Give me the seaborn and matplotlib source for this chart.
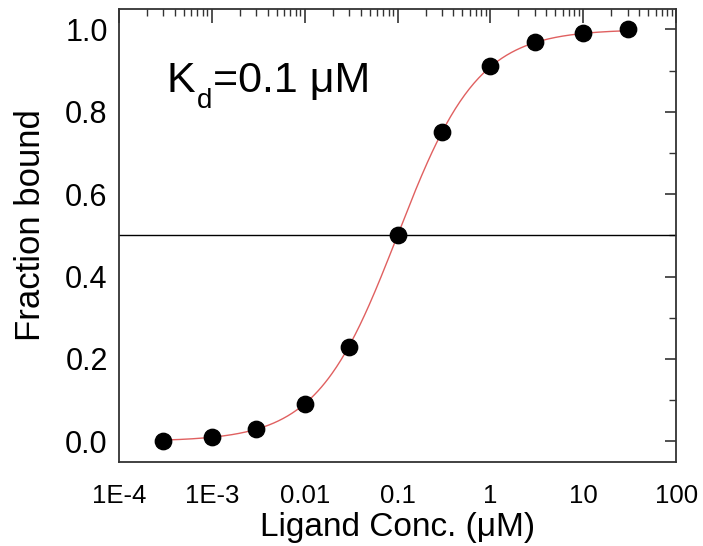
import matplotlib
matplotlib.use('Agg')
import matplotlib.pyplot as plt
import matplotlib.ticker as mticker
import seaborn as sns
import numpy as np
import pandas as pd

# binding data
conc = [3e-4, 1e-3, 3e-3, 0.01, 0.03, 0.1, 0.3, 1, 3, 10, 30]
fraction = [0.0, 0.01, 0.03, 0.09, 0.23, 0.5, 0.75, 0.91, 0.97, 0.99, 1.0]
kd = 0.1
xtick_vals = [1e-4, 1e-3, 1e-2, 1e-1, 1, 10, 100]
xtick_labels = ['1E-4', '1E-3', '0.01', '0.1', '1', '10', '100']
ytick_vals = [0.0, 0.2, 0.4, 0.6, 0.8, 1.0]

sns.set_theme(style='white')
plt.rcParams['font.family'] = ['Liberation Sans', 'DejaVu Sans']
plt.rcParams['text.color'] = 'black'
plt.rcParams['axes.labelcolor'] = 'black'
plt.rcParams['xtick.color'] = 'black'
plt.rcParams['ytick.color'] = 'black'

df = pd.DataFrame({'conc': conc, 'fraction': fraction})

# single-site binding isotherm for the drawn fit
fit_x = np.logspace(np.log10(3e-4), np.log10(30), 400)
fit = pd.DataFrame({'conc': fit_x, 'fraction': fit_x / (fit_x + kd)})

fig = plt.figure(figsize=(7.03, 5.46), dpi=100)
ax = fig.add_axes([0.169, 0.154, 0.793, 0.830])

ax.axhline(0.5, color='black', lw=1.0, zorder=1)
sns.lineplot(data=fit, x='conc', y='fraction', ax=ax, color='#e06060', lw=1.0, zorder=2)
sns.scatterplot(data=df, x='conc', y='fraction', ax=ax, color='black', s=140,
                edgecolor='black', zorder=3)

ax.set_xscale('log')
ax.set_xlim(1e-4, 100)
ax.set_ylim(-0.05, 1.05)
ax.set_xticks(xtick_vals)
ax.set_xticklabels(xtick_labels)
ax.xaxis.set_minor_locator(mticker.LogLocator(base=10, subs=np.arange(2, 10)))
ax.xaxis.set_minor_formatter(mticker.NullFormatter())
ax.set_yticks(ytick_vals)
ax.yaxis.set_major_formatter(mticker.FormatStrFormatter('%.1f'))
ax.yaxis.set_minor_locator(mticker.MultipleLocator(0.1))

ax.tick_params(which='both', direction='in', top=True, right=True, color='#333333')
ax.tick_params(which='major', length=8, width=1.2)
ax.tick_params(which='minor', length=5, width=1.0)
ax.tick_params(axis='x', which='major', length=10, pad=16, labelsize=18.5)
ax.tick_params(axis='y', which='major', pad=8, labelsize=22)
for sp in ax.spines.values():
    sp.set_color('#333333')
    sp.set_linewidth(1.3)

ax.set_xlabel('Ligand Conc. (μM)', fontsize=24, labelpad=3)
ax.set_ylabel('Fraction bound', fontsize=25)
ax.yaxis.set_label_coords(-0.129, 0.523)

# K_d label built from pieces so the subscript sits low like the original
renderer = fig.canvas.get_renderer()
inv = ax.transAxes.inverted()
k_txt = ax.text(0.086, 0.817, 'K', transform=ax.transAxes, fontsize=31,
                va='baseline', ha='left')
kb = k_txt.get_window_extent(renderer)
x_d = inv.transform((kb.x1 + 1, 0))[0]
d_txt = ax.text(x_d, 0.817 - 16 / ax.bbox.height, 'd', transform=ax.transAxes,
                fontsize=20, va='baseline', ha='left')
db = d_txt.get_window_extent(renderer)
x_eq = inv.transform((db.x1 + 1, 0))[0]
ax.text(x_eq, 0.817, '=0.1 μM', transform=ax.transAxes, fontsize=31,
        va='baseline', ha='left')

fig.savefig('out.png', dpi=100)
